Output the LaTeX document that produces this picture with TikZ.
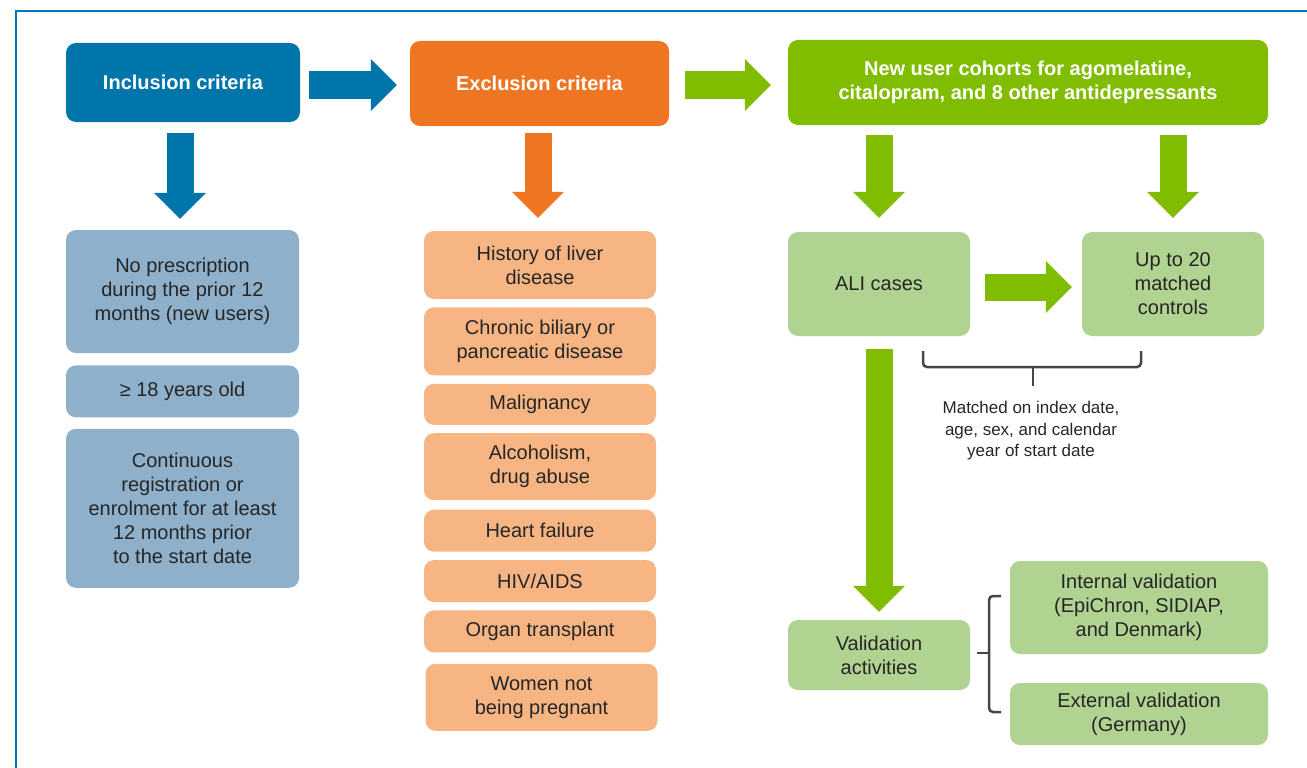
\documentclass[tikz,border=0pt]{standalone}
\usepackage{fontspec}
\setmainfont{Liberation Sans}
\usetikzlibrary{arrows.meta, positioning}

\definecolor{incblue}{RGB}{0,117,169}
\definecolor{excorange}{RGB}{238,118,35}
\definecolor{cohgreen}{RGB}{128,188,0}
\definecolor{incpale}{RGB}{142,176,202}
\definecolor{excpale}{RGB}{247,181,132}
\definecolor{cohpale}{RGB}{177,211,146}
\definecolor{txtgray}{RGB}{38,38,38}
\definecolor{frameblue}{RGB}{0,120,180}
\definecolor{bracegray}{RGB}{70,70,70}

\begin{document}
\begin{tikzpicture}[x=1pt, y=-1pt,
    box/.style={rounded corners=10pt, align=center, inner sep=0pt, text=txtgray,
                font=\fontsize{20}{24}\selectfont},
    head/.style={box, text=white, font=\fontsize{20}{24}\selectfont\bfseries},
    incbox/.style={box, fill=incpale, minimum width=233pt},
    excbox/.style={box, fill=excpale, minimum width=232pt},
    cohbox/.style={box, fill=cohpale},
    note/.style={align=center, text=txtgray, font=\fontsize{17}{21.5}\selectfont},
    fat/.style={line width=27pt, -{Triangle[length=26pt, width=52pt, line width=0pt]}},
    bracket/.style={draw=bracegray, line width=2.5pt, rounded corners=4pt},
    node distance=8pt
  ]
    \useasboundingbox (0,0) rectangle (1307,768);
    \draw[frameblue, line width=2pt] (16,768) -- (16,11) -- (1307,11);

    % top row
    \node[head, fill=incblue, minimum width=234pt, minimum height=79pt] (incl) at (183,82.5) {Inclusion criteria};
    \node[head, fill=excorange, minimum width=259pt, minimum height=85pt] (excl) at (539.5,83.5) {Exclusion criteria};
    \node[head, fill=cohgreen, minimum width=480pt, minimum height=85pt] (cohort) at (1028,82.5)
        {New user cohorts for agomelatine,\\citalopram, and 8 other antidepressants};

    % inclusion list
    \node[incbox, minimum height=123pt] (newuser) at (182.5,291.5) {No prescription\\during the prior 12\\months (new users)};
    \node[incbox, minimum height=52pt, below=12pt of newuser] (age) {≥ 18 years old};
    \node[incbox, minimum height=159pt, below=11pt of age] (regist)
        {Continuous\\registration or\\enrolment for at least\\12 months prior\\to the start date};

    % exclusion list
    \node[excbox, minimum height=68pt] (liver) at (540,265) {History of liver\\disease};
    \node[excbox, minimum height=68pt, below=of liver] (biliary) {Chronic biliary or\\pancreatic disease};
    \node[excbox, minimum height=41pt, below=of biliary] (malig) {Malignancy};
    \node[excbox, minimum height=67pt, below=of malig] (alcohol) {Alcoholism,\\drug abuse};
    \node[excbox, minimum height=42pt, below=9pt of alcohol] (heart) {Heart failure};
    \node[excbox, minimum height=42pt, below=of heart] (hiv) {HIV/AIDS};
    \node[excbox, minimum height=42pt, below=of hiv] (organ) {Organ transplant};
    \node[excbox, minimum height=67pt, below=11pt of organ, xshift=1.5pt] (women) {Women not\\being pregnant};

    % cohorts
    \node[cohbox, minimum width=182pt, minimum height=104pt] (ali) at (879,284) {ALI cases};
    \node[cohbox, minimum width=182pt, minimum height=104pt] (controls) at (1173,284) {Up to 20\\matched\\controls};
    \node[note] (matchnote) at (1031,431) {Matched on index date,\\age, sex, and calendar\\year of start date};
    \node[cohbox, minimum width=182pt, minimum height=70pt] (valid) at (879,655) {Validation\\activities};
    \node[cohbox, minimum width=258pt, minimum height=93pt] (internal) at (1139,607.5)
        {Internal validation\\(EpiChron, SIDIAP,\\and Denmark)};
    \node[cohbox, minimum width=258pt, minimum height=62pt] (external) at (1139,714) {External validation\\(Germany)};

    % block arrows
    \draw[fat, incblue, shorten <=9pt, shorten >=13pt] ([yshift=-2.5pt]incl.east) -- ([yshift=-2.5pt]incl.east -| excl.west);
    \draw[fat, cohgreen, shorten <=16pt, shorten >=17pt] ([yshift=-1.5pt]excl.east) -- ([yshift=-1.5pt]excl.east -| cohort.west);
    \draw[fat, incblue, shorten <=11pt, shorten >=11pt] ([xshift=-3pt]incl.south) -- ([xshift=-2.5pt]newuser.north);
    \draw[fat, excorange, shorten <=7pt, shorten >=13pt] ([xshift=-1.5pt]excl.south) -- ([xshift=-2pt]liver.north);
    \draw[fat, cohgreen, shorten <=10pt, shorten >=14pt] (ali.north |- cohort.south) -- (ali.north);
    \draw[fat, cohgreen, shorten <=10pt, shorten >=14pt] (controls.north |- cohort.south) -- (controls.north);
    \draw[fat, cohgreen, shorten <=15pt, shorten >=10pt] ([yshift=-3pt]ali.east) -- ([yshift=-3pt]controls.west);
    \draw[fat, cohgreen, shorten <=13pt, shorten >=8pt] (ali.south) -- (valid.north);

    % braces
    \draw[bracket] (923,351) -- (923,367) -- (1141,367) -- (1141,351);
    \draw[bracket] (1033,367) -- (1033,386);
    \draw[bracket] (1001,596) -- (989,596) -- (989,712) -- (1001,712);
    \draw[bracket] (989,653) -- (977,653);
\end{tikzpicture}
\end{document}
